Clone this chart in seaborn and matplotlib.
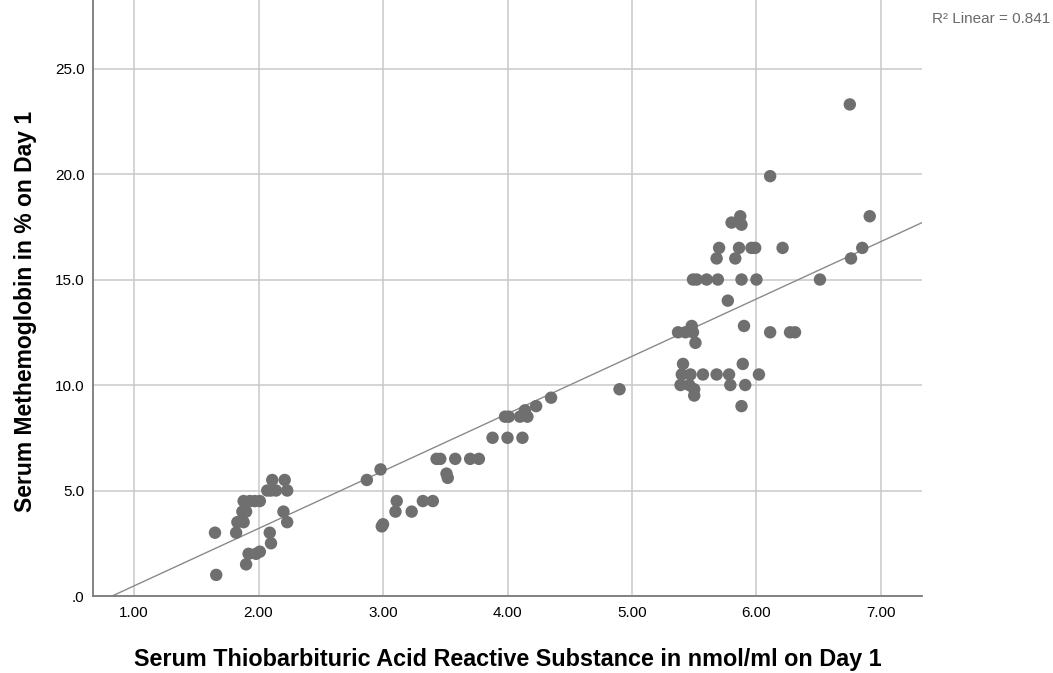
import matplotlib
matplotlib.use("Agg")
import matplotlib.pyplot as plt
import seaborn as sns
import numpy as np
import pandas as pd

# ---- data ----
tbars = [
    1.65, 1.66, 1.82, 1.83, 1.88, 1.87, 1.90, 1.88, 1.93, 1.97, 2.01, 1.90, 1.92, 1.98, 2.01,
    2.07, 2.10, 2.14, 2.11, 2.21, 2.23, 2.09, 2.10, 2.20, 2.23,
    2.87, 2.98, 2.99, 3.00, 3.11, 3.10, 3.23, 3.32, 3.40, 3.43, 3.46, 3.51, 3.52, 3.58, 3.70,
    3.77, 3.88, 4.00, 4.12, 3.98, 4.01, 4.10, 4.14, 4.16, 4.23, 4.35, 4.90,
    5.49, 5.52, 5.60, 5.69, 5.88, 6.00, 5.77,
    5.37, 5.43, 5.48, 5.49, 5.51, 5.90, 6.11, 6.27, 6.31,
    5.41, 5.89,
    5.40, 5.47, 5.57, 5.68, 5.78, 6.02,
    5.39, 5.46, 5.79, 5.91,
    5.50, 5.50, 5.88,
    6.11, 5.87, 5.80, 5.88,
    5.70, 5.86, 5.96, 5.99, 6.21,
    5.68, 5.83,
    6.91, 6.85, 6.76, 6.51, 6.75,
]
methb = [
    3.0, 1.0, 3.0, 3.5, 3.5, 4.0, 4.0, 4.5, 4.5, 4.5, 4.5, 1.5, 2.0, 2.0, 2.1,
    5.0, 5.0, 5.0, 5.5, 5.5, 5.0, 3.0, 2.5, 4.0, 3.5,
    5.5, 6.0, 3.3, 3.4, 4.5, 4.0, 4.0, 4.5, 4.5, 6.5, 6.5, 5.8, 5.6, 6.5, 6.5,
    6.5, 7.5, 7.5, 7.5, 8.5, 8.5, 8.5, 8.8, 8.5, 9.0, 9.4, 9.8,
    15.0, 15.0, 15.0, 15.0, 15.0, 15.0, 14.0,
    12.5, 12.5, 12.8, 12.5, 12.0, 12.8, 12.5, 12.5, 12.5,
    11.0, 11.0,
    10.5, 10.5, 10.5, 10.5, 10.5, 10.5,
    10.0, 10.0, 10.0, 10.0,
    9.8, 9.5, 9.0,
    19.9, 18.0, 17.7, 17.6,
    16.5, 16.5, 16.5, 16.5, 16.5,
    16.0, 16.0,
    18.0, 16.5, 16.0, 15.0, 23.3,
]
# fitted linear line as shown in the reference (slope / intercept)
fit_slope = 2.72
fit_intercept = -2.24

x_ticks = [1, 2, 3, 4, 5, 6, 7]
x_ticklabels = ["1.00", "2.00", "3.00", "4.00", "5.00", "6.00", "7.00"]
y_ticks = [0, 5, 10, 15, 20, 25]
y_ticklabels = [".0", "5.0", "10.0", "15.0", "20.0", "25.0"]
r2_label = "R\u00b2 Linear = 0.841"

df = pd.DataFrame({"tbars": tbars, "methb": methb})

sns.set_theme(style="white")
plt.rcParams["font.family"] = ["Liberation Sans", "DejaVu Sans"]

fig = plt.figure(figsize=(10.53, 6.73), dpi=100)
ax = fig.add_axes([93 / 1053, 77 / 673, 829 / 1053, 596 / 673])
ax.set_xlim(0.67, 7.33)
ax.set_ylim(0, 28.25)

ax.set_axisbelow(True)
ax.grid(True, color="#c9c9c9", linewidth=1.1)

sns.scatterplot(data=df, x="tbars", y="methb", ax=ax, s=80, color="#6f6f6f",
                edgecolor="none", alpha=1, zorder=3)
ax.axline((0, fit_intercept), slope=fit_slope, color="#8a8a8a", linewidth=1.0, zorder=2)

ax.set_xlim(0.67, 7.33)
ax.set_ylim(0, 28.25)
ax.set_xticks(x_ticks)
ax.set_xticklabels(x_ticklabels)
ax.set_yticks(y_ticks)
ax.set_yticklabels(y_ticklabels)
ax.tick_params(axis="both", length=0, labelsize=11, colors="#000000")
ax.tick_params(axis="x", pad=7.5)
ax.tick_params(axis="y", pad=6)

for side in ["top", "right"]:
    ax.spines[side].set_visible(False)
for side in ["left", "bottom"]:
    ax.spines[side].set_color("#7a7a7a")
    ax.spines[side].set_linewidth(1.3)

ax.set_xlabel("Serum Thiobarbituric Acid Reactive Substance in nmol/ml on Day 1",
              fontsize=16.8, fontweight="bold", color="#000000")
ax.set_ylabel("Serum Methemoglobin in % on Day 1",
              fontsize=16.5, fontweight="bold", color="#000000")
ax.xaxis.set_label_coords(0.5, -0.087)
ax.yaxis.set_label_coords(-0.0675, 0.478)

fig.text(1050 / 1053, 1 - 19 / 673, r2_label, ha="right", va="center",
         fontsize=11, color="#6a6a6a")

fig.savefig("out.png", dpi=100)
